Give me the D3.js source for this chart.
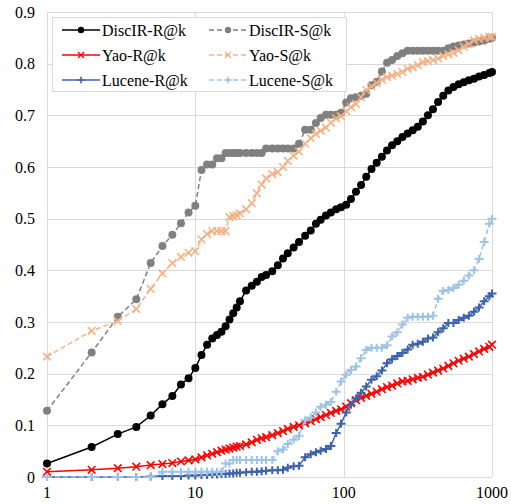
<!DOCTYPE html>
<html>
<head>
<meta charset="utf-8">
<script src="https://cdn.jsdelivr.net/npm/d3@7"></script>
<style>
  body { margin: 0; background: #fff; }
  svg text { font-family: "Liberation Serif", "Times New Roman", serif; font-size: 16px; fill: #000; }
</style>
</head>
<body>
<div id="chart"></div>
<script>
// k values (shared x positions)
var kValues = [1,2,3,4,5,6,7,8,9,10,11,12,13,14,15,16,17,18,19,20,
  22,24,26,28,30,33,36,39,42,46,50,55,60,65,70,76,82,89,96,104,
  112,121,131,142,154,167,181,196,212,230,249,270,292,316,342,370,400,433,469,508,
  550,596,645,698,756,818,886,960,1000];

var discirR = [.026,.058,.083,.097,.119,.141,.157,.179,.191,.211,.236,.256,.268,.275,.281,.292,.305,.317,.328,.340,
  .361,.370,.378,.387,.391,.398,.410,.423,.433,.444,.455,.467,.477,.490,.498,.506,.512,.518,.522,.527,
  .538,.552,.565,.581,.596,.608,.620,.632,.642,.650,.658,.665,.671,.678,.688,.700,.712,.726,.738,.748,
  .755,.760,.764,.768,.771,.775,.778,.782,.784];

var discirS = [.128,.241,.310,.344,.414,.447,.469,.491,.512,.525,.594,.605,.605,.617,.617,.627,.627,.627,.627,.627,
  .627,.627,.627,.627,.636,.636,.636,.636,.636,.636,.645,.672,.672,.685,.695,.701,.701,.701,.705,.725,
  .733,.735,.738,.742,.758,.765,.785,.802,.807,.815,.820,.825,.825,.825,.825,.825,.825,.825,.825,.830,
  .833,.835,.837,.839,.841,.843,.845,.848,.850];

var yaoR = [.010,.014,.017,.020,.023,.025,.027,.030,.032,.034,.038,.042,.045,.048,.051,.053,.055,.057,.059,.060,
  .063,.067,.072,.075,.077,.081,.085,.089,.093,.097,.100,.104,.108,.112,.116,.120,.124,.128,.131,.136,
  .143,.149,.153,.157,.161,.165,.170,.174,.177,.181,.185,.186,.189,.192,.194,.198,.202,.206,.210,.215,
  .220,.225,.229,.233,.238,.243,.248,.252,.256];

var yaoS = [.233,.283,.302,.325,.364,.394,.414,.426,.434,.437,.460,.470,.476,.476,.476,.476,.503,.505,.507,.510,
  .518,.530,.549,.566,.578,.586,.590,.600,.612,.622,.630,.645,.656,.664,.670,.676,.686,.694,.698,.708,
  .716,.722,.735,.749,.756,.763,.769,.774,.777,.780,.784,.790,.793,.797,.803,.805,.807,.810,.815,.818,
  .821,.826,.833,.838,.845,.848,.850,.852,.852];

var luceneR = [0,0,0,0,.001,.002,.002,.002,.003,.003,.004,.004,.005,.005,.006,.006,.007,.007,.008,.008,
  .009,.010,.010,.011,.012,.013,.013,.014,.018,.021,.022,.038,.044,.048,.051,.054,.060,.085,.103,.125,
  .140,.152,.163,.175,.188,.195,.206,.220,.228,.234,.240,.247,.256,.258,.262,.268,.270,.280,.288,.298,
  .298,.304,.308,.312,.320,.328,.340,.350,.355];

var luceneS = [0,0,0,0,0,.010,.010,.010,.010,.010,.010,.010,.010,.010,.010,.026,.026,.033,.033,.033,
  .033,.033,.033,.033,.033,.033,.050,.053,.064,.072,.080,.110,.115,.125,.136,.140,.145,.165,.185,.198,
  .207,.214,.230,.246,.250,.250,.250,.255,.272,.280,.295,.308,.310,.310,.310,.310,.312,.345,.360,.362,
  .366,.372,.380,.390,.400,.422,.455,.490,.500];

var seriesNames = ["DiscIR-R@k", "DiscIR-S@k", "Yao-R@k", "Yao-S@k", "Lucene-R@k", "Lucene-S@k"];
var seriesValues = [discirR, discirS, yaoR, yaoS, luceneR, luceneS];
var seriesColors = ["#000000", "#808080", "#ff0000", "#f4b183", "#3d63ad", "#9dc3e6"];
var seriesDash = [null, "5,3", null, "5,3", null, "5,3"];
var seriesMarker = ["circle", "circle", "x", "x", "plus", "plus"];

var xTicks = [1, 10, 100, 1000];
var yTicks = [0, 0.1, 0.2, 0.3, 0.4, 0.5, 0.6, 0.7, 0.8, 0.9];

var width = 511, height = 504;
var svg = d3.select("#chart").append("svg")
  .attr("width", width).attr("height", height)
  .attr("font-family", "'Liberation Serif', 'Times New Roman', serif")
  .attr("font-size", 16);

var x = d3.scaleLog().domain([1, 1000]).range([47, 492]);
var y = d3.scaleLinear().domain([0, 0.9]).range([477, 12]);

// grid
svg.append("g").selectAll("line")
  .data(yTicks).enter().append("line")
    .attr("x1", x(1)).attr("x2", x(1000))
    .attr("y1", function(d){ return Math.round(y(d)) + 0.5; })
    .attr("y2", function(d){ return Math.round(y(d)) + 0.5; })
    .attr("stroke", "#d9d9d9").attr("stroke-width", 1);
svg.append("g").selectAll("line")
  .data(xTicks).enter().append("line")
    .attr("y1", y(0)).attr("y2", y(0.9))
    .attr("x1", function(d){ return Math.round(x(d)) + 0.5; })
    .attr("x2", function(d){ return Math.round(x(d)) + 0.5; })
    .attr("stroke", "#d9d9d9").attr("stroke-width", 1);

// tick labels
svg.append("g").selectAll("text")
  .data(yTicks).enter().append("text")
    .attr("x", 35).attr("y", function(d){ return y(d); })
    .attr("dy", "0.35em").attr("text-anchor", "end")
    .text(function(d){ return d === 0 ? "0" : d3.format(".1f")(d); });
svg.append("g").selectAll("text")
  .data(xTicks).enter().append("text")
    .attr("x", function(d){ return x(d); }).attr("y", 498)
    .attr("text-anchor", "middle")
    .text(function(d){ return d; });

function drawMarker(sel, type, color) {
  if (type === "circle") {
    sel.append("circle").attr("r", 4).attr("fill", color);
  } else if (type === "x") {
    sel.append("path").attr("d", "M-3.8,-3.8L3.8,3.8M-3.8,3.8L3.8,-3.8")
      .attr("stroke", color).attr("stroke-width", 1.6).attr("fill", "none");
  } else {
    sel.append("path").attr("d", "M-4.5,0L4.5,0M0,-4L0,4")
      .attr("stroke", color).attr("stroke-width", 2).attr("fill", "none");
  }
}

var line = d3.line()
  .x(function(d){ return x(d[0]); })
  .y(function(d){ return y(d[1]); });

seriesValues.forEach(function(vals, i) {
  var pts = kValues.map(function(k, j){ return [k, vals[j]]; });
  var g = svg.append("g");
  g.append("path").datum(pts)
    .attr("d", line)
    .attr("fill", "none")
    .attr("stroke", seriesColors[i])
    .attr("stroke-width", 1.5)
    .attr("stroke-dasharray", seriesDash[i]);
  g.selectAll("g").data(pts).enter().append("g")
    .attr("transform", function(d){ return "translate(" + x(d[0]) + "," + y(d[1]) + ")"; })
    .each(function(){ drawMarker(d3.select(this), seriesMarker[i], seriesColors[i]); });
});

// legend
var legend = svg.append("g");
legend.append("rect")
  .attr("x", 52.5).attr("y", 17.5).attr("width", 294).attr("height", 74)
  .attr("fill", "#fff").attr("stroke", "#d9d9d9");
var colX = [62, 209], rowY = [30, 55, 80];
seriesNames.forEach(function(name, i) {
  var cx = colX[i % 2], cy = rowY[Math.floor(i / 2)];
  var item = legend.append("g").attr("transform", "translate(" + cx + "," + cy + ")");
  item.append("line").attr("x1", 0).attr("x2", 38).attr("y1", 0).attr("y2", 0)
    .attr("stroke", seriesColors[i]).attr("stroke-width", 1.5)
    .attr("stroke-dasharray", seriesDash[i]);
  var mk = item.append("g").attr("transform", "translate(19,0) scale(0.8)");
  drawMarker(mk, seriesMarker[i], seriesColors[i]);
  item.append("text").attr("x", 40).attr("y", 0).attr("dy", "0.35em").text(name);
});
</script>
</body>
</html>
